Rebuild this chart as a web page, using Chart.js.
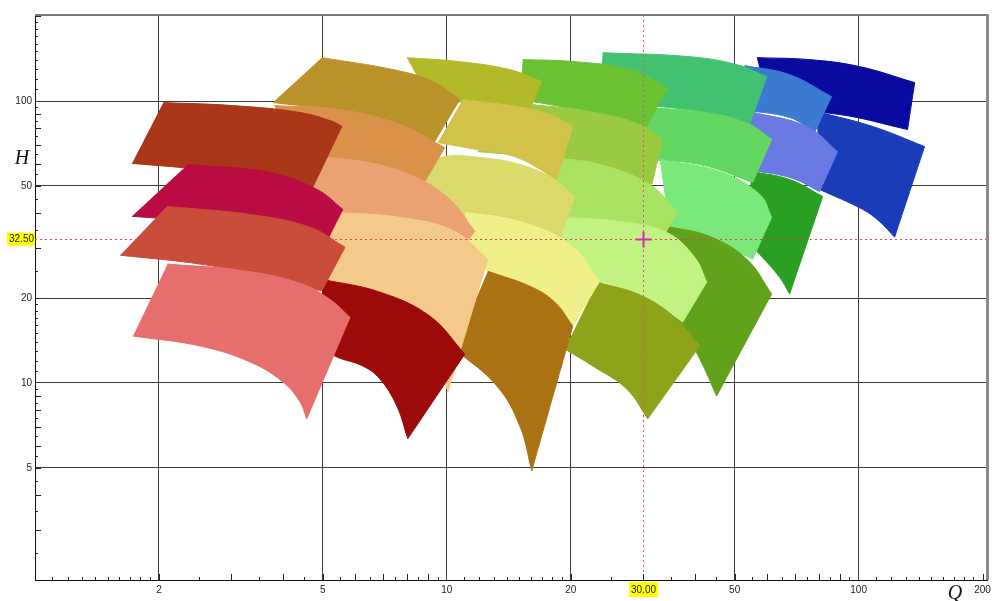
<!DOCTYPE html>
<html>
<head>
<meta charset="utf-8">
<script src="https://cdn.jsdelivr.net/npm/chart.js@4/dist/chart.umd.min.js"></script>
<style>
  html, body { margin: 0; padding: 0; background: #fff; }
  #wrap { width: 992px; height: 601px; }
</style>
</head>
<body>
<div id="wrap"><canvas id="c" width="992" height="601"></canvas></div>
<script>
// Axis ranges and labelled ticks (flow Q, head H, both logarithmic)
const Q_RANGE = [1, 205];
const H_RANGE = [2, 202];
const Q_TICKS = [2, 5, 10, 20, 50, 100, 200];
const H_TICKS = [5, 10, 20, 50, 100];
// Selected duty point (Q, H)
const DUTY_Q = 30;
const DUTY_H = 32.5;

// Pump ranges: curve at largest impeller (top) and smallest impeller (bottom), [Q, H] left -> right
const rustTop = [[2.05,98.8],[3.02,96.4],[4.40,91.1],[5.29,84.6],[5.56,81.3]];
const rustBottom = [[1.72,60.1],[2.52,57.2],[3.72,52.7],[4.70,48.6]];
const crimsonTop = [[2.35,59.6],[3.72,55.8],[4.84,48.6],[5.59,41.3]];
const crimsonBottom = [[1.72,39.0],[2.52,37.4],[3.93,34.5],[5.11,31.8]];
const brickTop = [[2.09,42.3],[3.33,39.6],[4.65,35.7],[5.66,30.3]];
const brickBottom = [[1.61,28.4],[2.52,26.4],[3.72,23.7],[4.97,21.2]];
const coralTop = [[2.10,26.4],[3.15,25.1],[4.40,22.6],[5.20,19.8],[5.82,17.1]];
const coralBottom = [[1.73,14.67],[2.52,13.52],[3.33,11.87],[4.00,10.08],[4.40,8.57],[4.57,7.46]];

const ochreTop = [[4.97,142.6],[7.40,129.3],[9.25,117.3],[10.75,101.2]];
const ochreBottom = [[3.78,98.8],[5.50,91.8],[7.27,78.0],[8.46,56.3]];
const orangeTop = [[3.81,96.4],[5.50,93.3],[7.69,82.6],[9.89,68.4]];
const orangeBottom = [[4.28,63.1],[4.92,63.1],[6.88,59.6],[8.85,51.9]];
const salmonTop = [[4.86,63.6],[6.15,61.1],[8.13,54.9],[10.17,44.8],[11.70,34.5]];
const salmonBottom = [[4.52,39.6],[5.20,40.3],[7.69,38.1],[11.06,31.0]];
const peachTop = [[5.14,40.3],[7.69,38.7],[10.45,34.5],[12.58,27.5]];
const peachBottom = [[5.06,22.4],[7.27,19.8],[9.09,15.5],[10.06,9.29]];
const maroonTop = [[5.00,23.3],[6.88,21.0],[9.09,17.27],[11.06,12.66]];
const maroonBottom = [[4.92,13.74],[5.35,12.46],[6.25,11.49],[6.88,10.33],[7.56,8.29],[8.04,6.34]];

const limeOliveTop = [[8.00,142.6],[10.75,138],[14.22,129.3],[17.01,117.3]];
const limeOliveBottom = [[9.09,101.2],[12.03,97.2],[15.73,89.6]];
const mustardTop = [[10.94,101.2],[14.79,95.6],[17.78,89.6],[20.22,81.3]];
const mustardBottom = [[9.51,71.3],[11.82,67.3],[14.79,63.1],[18.49,52.7]];
const khakiTop = [[8.60,58.2],[9.89,63.6],[12.03,63.1],[15.04,59.6],[18.29,52.7],[20.45,45.9]];
const khakiBottom = [[9.09,38.1],[13.45,35.7],[18.8,32.3]];
const lemonTop = [[11.06,40.3],[15.04,37.4],[19.89,31.0],[23.52,22.97]];
const lemonBottom = [[11.06,26.4],[12.58,24.9],[15.91,22.04],[20.22,15.91]];
const bronzeTop = [[12.58,24.9],[15.91,22.04],[18.29,19.35],[20.22,15.91]];
const bronzeBottom = [[10.45,13.2],[13.23,9.76],[15.04,7.04],[16.08,4.88]];

const grassTop = [[15.29,140.3],[20.45,138],[27.81,129.3],[34.4,111.6]];
const grassBottom = [[15.04,101.2],[17.78,97.2],[23.52,89.6],[30.24,79.3]];
const chartreuseTop = [[16.17,97.2],[22.24,91.8],[29.4,82.6],[33.44,73.1]];
const chartreuseBottom = [[11.89,66.2],[16.81,63.1],[23.52,58.2],[31.45,50.6]];
const leafTop = [[17.78,63.1],[23.52,59.6],[31.10,50.6],[36.37,40.3]];
const leafBottom = [[16.81,38.7],[18.8,38.1],[26.3,36.5],[33.81,33.7]];
const paleLeafTop = [[18.8,38.7],[26.3,37.4],[34.2,34.2],[39.99,27.9],[42.77,22.8]];
const paleLeafBottom = [[18.8,24.3],[23.52,22.97],[31.1,19.8],[37.4,16.44]];
const oliveTop = [[23.26,22.8],[29.9,20.32],[36.16,16.8],[41.12,13.52]];
const oliveBottom = [[19.34,13.2],[22.61,11.49],[27.35,9.52],[30.75,7.46]];

const jadeTop = [[23.9,148.5],[38.9,143.7],[50.57,134.7],[59.8,122.1]];
const jadeBottom = [[23.52,101.2],[29.4,97.2],[41.1,91.8],[54.4,82.6]];
const springTop = [[30.58,94.8],[42.77,91.1],[54.4,82.6],[61.5,73.1]];
const springBottom = [[29.4,62.1],[41.1,59.6],[55.3,51.5]];
const mintTop = [[32.89,62.1],[45.98,56.3],[57.5,46.7],[61.5,38.7]];
const mintBottom = [[34.78,34.5],[46.0,31.0],[55.3,27.5]];
const fernTop = [[34.2,35.95],[43.5,33.1],[53.5,27.5],[61.5,20.7]];
const fernBottom = [[32.9,16.8],[37.4,15.5],[41.1,12.2],[45.2,8.99]];

const navyTop = [[56.6,142.6],[76.0,140.3],[100.6,132.5],[136.8,116.3]];
const navyBottom = [[60.8,93.3],[89.9,89.6],[131.5,79.3]];
const cobaltTop = [[79.1,91.8],[108.1,81.3],[144.6,69.0]];
const cobaltBottom = [[80.4,48.6],[102.2,41.3],[112.4,37.4],[122.3,32.9]];
const steelTop = [[52.9,133.6],[68.0,124.1],[86.0,103.7]];
const steelBottom = [[51.4,93.3],[68.0,87.4],[78.2,77.4]];
const periwinkleTop = [[54.4,91.8],[74.8,81.3],[88.9,66.2]];
const periwinkleBottom = [[52.9,57.2],[68.0,53.6],[80.4,47.8]];
const forestTop = [[55.0,56.3],[68.0,52.7],[81.8,45.9]];
const forestBottom = [[52.9,32.3],[57.5,28.6],[64.3,23.7],[68.0,20.7]];

// Painting order, back to front, with fill colours
const tileEdges = [
  [navyTop, navyBottom], [cobaltTop, cobaltBottom], [steelTop, steelBottom],
  [periwinkleTop, periwinkleBottom], [forestTop, forestBottom],
  [jadeTop, jadeBottom], [springTop, springBottom], [mintTop, mintBottom], [fernTop, fernBottom],
  [grassTop, grassBottom], [chartreuseTop, chartreuseBottom], [leafTop, leafBottom],
  [paleLeafTop, paleLeafBottom], [oliveTop, oliveBottom],
  [limeOliveTop, limeOliveBottom], [mustardTop, mustardBottom], [khakiTop, khakiBottom],
  [lemonTop, lemonBottom], [bronzeTop, bronzeBottom],
  [ochreTop, ochreBottom], [orangeTop, orangeBottom], [salmonTop, salmonBottom],
  [peachTop, peachBottom], [maroonTop, maroonBottom],
  [rustTop, rustBottom], [crimsonTop, crimsonBottom], [brickTop, brickBottom], [coralTop, coralBottom]
];
const tileColors = [
  '#0a0aa0', '#1a3cb8', '#3a7ad0', '#6a7ae2', '#2aa022',
  '#42c270', '#62d862', '#7ae87a', '#62a21a',
  '#6ac232', '#9aca42', '#aae262', '#c2f282', '#8ea21a',
  '#b2ba2a', '#d2c24a', '#dada6a', '#f0f08a', '#aa7212',
  '#ba922a', '#da924a', '#eaa272', '#f4ca8a', '#9c0a0a',
  '#aa3618', '#ba0c42', '#ca4c3a', '#e66e6c'
];

// Closed outline: corners are repeated so the smoothed curve keeps them sharp
function outline(top, bottom) {
  const tl = top[0], tr = top[top.length - 1];
  const bl = bottom[0], br = bottom[bottom.length - 1];
  const back = bottom.slice().reverse();
  return [tl, ...top, tr, br, ...back, bl];
}

const datasets = tileEdges.map(([top, bottom], i) => ({
  data: outline(top, bottom).map(([q, h]) => ({ x: q, y: h })),
  backgroundColor: tileColors[i],
  borderColor: tileColors[i],
  borderWidth: 1,
  pointRadius: 0,
  tension: 0.4,
  fill: 'shape',
  order: tileEdges.length - i
}));

function logSteps(lo, hi) {
  // positions of the small inward ticks within each decade
  const out = [];
  for (let dec = 1; dec <= 100; dec *= 10) {
    for (let k = 11; k < 100; k++) {
      const keep = k < 20 ? true : (k % 5 === 0);
      if (!keep) continue;
      const v = (k / 10) * dec;
      if (v > lo && v < hi) out.push({ v, big: k % 10 === 0 });
    }
  }
  return out;
}

const framePlugin = {
  id: 'frame',
  afterDatasetsDraw(chart) {
    const { ctx, chartArea: a, scales: { x, y } } = chart;
    ctx.save();

    // duty point cross-hair
    const px = Math.round(x.getPixelForValue(DUTY_Q)) + 0.5;
    const py = Math.round(y.getPixelForValue(DUTY_H)) + 0.5;
    ctx.setLineDash([2, 3]);
    ctx.lineWidth = 1;
    ctx.strokeStyle = '#e0405a';
    ctx.beginPath();
    ctx.moveTo(a.left, py); ctx.lineTo(a.right, py);
    ctx.stroke();
    ctx.strokeStyle = '#d05a70';
    ctx.beginPath();
    ctx.moveTo(px, a.top); ctx.lineTo(px, a.bottom);
    ctx.stroke();
    ctx.setLineDash([]);
    ctx.strokeStyle = '#e024c0';
    ctx.lineWidth = 2;
    ctx.beginPath();
    ctx.moveTo(px - 8, py); ctx.lineTo(px + 8, py);
    ctx.moveTo(px, py - 8); ctx.lineTo(px, py + 8);
    ctx.stroke();

    // inward minor ticks
    ctx.strokeStyle = '#222';
    ctx.lineWidth = 1;
    ctx.beginPath();
    for (const t of logSteps(Q_RANGE[0], Q_RANGE[1])) {
      const tx = Math.round(x.getPixelForValue(t.v)) + 0.5;
      ctx.moveTo(tx, a.bottom); ctx.lineTo(tx, a.bottom - (t.big ? 6 : 3));
    }
    for (const t of logSteps(H_RANGE[0], H_RANGE[1])) {
      const ty = Math.round(y.getPixelForValue(t.v)) + 0.5;
      ctx.moveTo(a.left, ty); ctx.lineTo(a.left + (t.big ? 6 : 3), ty);
    }
    ctx.stroke();

    // top and right frame
    ctx.strokeStyle = '#7a7a7a';
    ctx.lineWidth = 2;
    ctx.beginPath();
    ctx.moveTo(a.left, a.top); ctx.lineTo(a.right + 1, a.top);
    ctx.stroke();
    ctx.strokeStyle = '#8a8a8a';
    ctx.lineWidth = 3;
    ctx.beginPath();
    ctx.moveTo(a.right + 0.5, a.top - 1); ctx.lineTo(a.right + 0.5, a.bottom);
    ctx.stroke();

    // highlighted duty-point values on the axes
    ctx.font = '10px "Liberation Sans", Arial, sans-serif';
    ctx.textBaseline = 'middle';
    const hText = DUTY_H.toFixed(2);
    const hw = ctx.measureText(hText).width;
    ctx.fillStyle = '#ffff00';
    ctx.fillRect(a.left - hw - 3, py - 7, hw + 3, 13);
    ctx.fillStyle = '#222';
    ctx.textAlign = 'right';
    ctx.fillText(hText, a.left - 1, py);

    const qText = DUTY_Q.toFixed(2);
    const qw = ctx.measureText(qText).width;
    ctx.fillStyle = '#ffff00';
    ctx.fillRect(px - qw / 2 - 2, a.bottom + 2, qw + 4, 15);
    ctx.fillStyle = '#222';
    ctx.textAlign = 'center';
    ctx.fillText(qText, px, a.bottom + 10);

    // axis symbols
    ctx.font = 'italic 20px "Liberation Serif", "DejaVu Serif", serif';
    ctx.fillStyle = '#111';
    ctx.textAlign = 'center';
    ctx.textBaseline = 'alphabetic';
    ctx.fillText('H', 22, 164);
    ctx.fillText('Q', 955, 599);
    ctx.restore();
  }
};

const tickFont = { family: '"Liberation Sans", Arial, sans-serif', size: 10 };

new Chart(document.getElementById('c'), {
  type: 'line',
  data: { datasets },
  options: {
    responsive: false,
    animation: false,
    devicePixelRatio: 1,
    events: [],
    layout: { padding: { top: 15, right: 5, left: 0, bottom: 0 } },
    plugins: { legend: { display: false }, tooltip: { enabled: false } },
    scales: {
      x: {
        type: 'logarithmic',
        position: 'bottom',
        min: Q_RANGE[0],
        max: Q_RANGE[1],
        afterBuildTicks: s => { s.ticks = Q_TICKS.map(v => ({ value: v })); },
        afterFit: s => { s.height = 21; s.paddingLeft = 0; s.paddingRight = 0; },
        ticks: { autoSkip: false, maxRotation: 0, padding: 4, color: '#222', font: tickFont, callback: v => String(v) },
        grid: {
          drawTicks: false,
          lineWidth: 1,
          color: c => (c.tick && c.tick.value === 200) ? 'rgba(0,0,0,0)' : '#3c3c3c'
        },
        border: { color: '#111', width: 1 }
      },
      y: {
        type: 'logarithmic',
        position: 'left',
        min: H_RANGE[0],
        max: H_RANGE[1],
        afterBuildTicks: s => { s.ticks = H_TICKS.map(v => ({ value: v })); },
        afterFit: s => { s.width = 35; s.paddingTop = 0; s.paddingBottom = 0; },
        ticks: { autoSkip: false, padding: 3, color: '#222', font: tickFont, callback: v => String(v) },
        grid: { drawTicks: false, lineWidth: 1, color: '#3c3c3c' },
        border: { color: '#111', width: 1 }
      }
    }
  },
  plugins: [framePlugin]
});
</script>
</body>
</html>
